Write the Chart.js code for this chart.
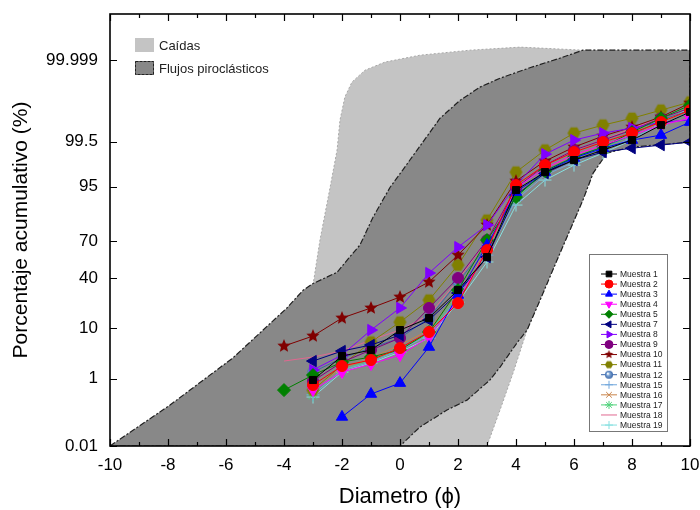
<!DOCTYPE html>
<html>
<head>
<meta charset="utf-8">
<script src="https://cdn.jsdelivr.net/npm/chart.js@4.4.1/dist/chart.umd.min.js"></script>
<style>
  html, body { margin: 0; padding: 0; background: #fff; }
</style>
</head>
<body>
<canvas id="probChart" width="700" height="510"></canvas>
<script>
// grain size (phi) of each sieve
const phi = [-4, -3, -2, -1, 0, 1, 2, 3, 4, 5, 6, 7, 8, 9, 10];

// cumulative percent per sample
const m1  = [null, 0.93, 3.16, 4.15, 9.34, 14.2, 31.1, 57.5, 94.25, 97.43, 98.60, 99.19, 99.547, 99.825, 99.929];
const m2  = [null, 0.70, 1.95, 2.62, 4.53, 8.68, 22.3, 63.1, 95.34, 98.18, 99.09, 99.49, 99.706, 99.857, 99.938];
const m3  = [null, null, 0.091, 0.41, 0.78, 4.73, 27.6, 66.9, 93.75, 97.43, 98.74, 99.27, 99.547, 99.667, 99.857];
const m4  = [null, 0.52, 1.43, 2.15, 3.31, 7.15, 24.2, 63.1, 94.71, 97.89, 98.93, 99.39, 99.667, 99.825, 99.89];
const m5  = [0.52, 1.22, 2.37, 3.02, 4.15, 8.68, 31.1, 70.6, 92.38, 97.55, 98.80, 99.315, 99.724, 99.89, 99.957];
const m7  = [null, 2.49, 3.97, 5.16, 7.73, 13.3, 29.0, 57.5, 92.95, 97.30, 98.60, 99.09, 99.27, 99.39, 99.49];
const m8  = [null, 1.59, 3.31, 9.34, 19.4, 44.4, 65.4, 80.3, 95.34, 98.98, 99.547, 99.706, 99.787, 99.857, 99.875];
const m9  = [null, 0.88, 2.37, 4.15, 6.88, 19.4, 40.4, 70.6, 94.71, 98.18, 99.19, 99.547, 99.758, 99.89, 99.947];
const m10 = [4.94, 7.44, 14.2, 19.4, 26.2, 37.2, 59.1, 80.3, 96.10, 98.52, 99.315, 99.646, 99.80, 99.90, 99.963];
const m11 = [null, 0.52, 2.05, 5.84, 12.4, 24.2, 51.0, 83.0, 97.43, 99.19, 99.706, 99.825, 99.89, 99.938, 99.966];
const m12 = [null, 1.43, 2.88, 4.53, 6.88, 14.2, 37.2, 66.2, 92.67, 97.67, 98.80, 99.315, 99.667, 99.875, 99.938];
const m15 = [null, 0.39, 1.59, 2.37, 4.15, 7.73, 25.5, 59.1, 91.45, 97.03, 98.44, 99.19, 99.60, 99.825, 99.929];
const m16 = [null, 0.59, 1.76, 2.88, 5.16, 9.34, 29.7, 63.1, 92.95, 97.67, 98.93, 99.39, 99.667, 99.857, 99.938];
const m17 = [null, 0.39, 1.59, 2.62, 4.15, 8.35, 27.6, 63.1, 92.07, 97.43, 98.74, 99.27, 99.667, 99.89, 99.950];
const m18 = [2.49, 3.02, 3.97, 6.34, 9.34, 15.6, 38.7, 70.6, 94.71, 98.18, 99.19, 99.547, 99.787, 99.89, 99.947];
const m19 = [null, 0.34, 1.43, 2.26, 3.80, 6.88, 22.9, 53.5, 89.72, 96.27, 98.18, 99.04, 99.547, 99.847, 99.947];

// envelope outlines (phi, cumulative %)
const caidasX = [-3.0, -2.76, -2.41, -2.17, -2.07, -1.90, -1.66, -1.21, -0.52, 0.69, 2.41, 4.14, 6.31, 10, 10, 7.93, 7.14, 6.66, 6.31, 5.52, 4.83, 4.38, 3.90, 3.45, 3.0, 0, -3.0];
const caidasY = [34.9, 70.6, 94.9, 99.19, 99.875, 99.977, 99.993, 99.9975, 99.9988, 99.99937, 99.99961, 99.99971, 99.99961, 99.99961, 99.49, 99.31, 99.04, 97.3, 91.5, 60.8, 24.2, 9.3, 1.36, 0.147, 0.01, 0.01, 34.9];
const flujosX = [-10, -7.93, -5.76, -3.90, -3.34, -3.0, -2.17, -1.72, -1.38, -0.93, -0.34, 0.10, 0.59, 1.38, 2.07, 2.76, 3.45, 4.48, 5.52, 6.31, 10, 10, 7.93, 7.14, 6.66, 6.31, 5.52, 4.83, 4.38, 4.03, 3.45, 3.10, 2.31, 1.62, 0.69, 0, -10];
const flujosY = [0.01, 0.205, 2.9, 19.4, 31, 36, 45, 58, 67, 84.5, 94.9, 97.7, 99.19, 99.89, 99.97, 99.9895, 99.995, 99.998, 99.99917, 99.99961, 99.99961, 99.49, 99.31, 99.04, 97.3, 91.5, 60.8, 24.2, 9.3, 5.6, 1.85, 0.93, 0.28, 0.147, 0.044, 0.01, 0.01];

// probability axis ticks
const yTicks = [0.01, 1, 10, 40, 70, 95, 99.5, 99.999];
const yLabels = ['0.01', '1', '10', '40', '70', '95', '99.5', '99.999'];

const FONT = '"Liberation Sans", Arial, Helvetica, sans-serif';

// inverse normal CDF (Acklam)
function probit(p) {
  const a = [-3.969683028665376e+01, 2.209460984245205e+02, -2.759285104469687e+02, 1.383577518672690e+02, -3.066479806614716e+01, 2.506628277459239e+00];
  const b = [-5.447609879822406e+01, 1.615858368580409e+02, -1.556989798598866e+02, 6.680131188771972e+01, -1.328068155288572e+01];
  const c = [-7.784894002430293e-03, -3.223964580411365e-01, -2.400758277161838e+00, -2.549732539343734e+00, 4.374664141464968e+00, 2.938163982698783e+00];
  const d = [7.784695709041462e-03, 3.224671290700398e-01, 2.445134137142996e+00, 3.754408661907416e+00];
  const pl = 0.02425;
  let q, r;
  if (p < pl) {
    q = Math.sqrt(-2 * Math.log(p));
    return (((((c[0]*q+c[1])*q+c[2])*q+c[3])*q+c[4])*q+c[5]) / ((((d[0]*q+d[1])*q+d[2])*q+d[3])*q+1);
  }
  if (p <= 1 - pl) {
    q = p - 0.5; r = q * q;
    return (((((a[0]*r+a[1])*r+a[2])*r+a[3])*r+a[4])*r+a[5])*q / (((((b[0]*r+b[1])*r+b[2])*r+b[3])*r+b[4])*r+1);
  }
  q = Math.sqrt(-2 * Math.log(1 - p));
  return -(((((c[0]*q+c[1])*q+c[2])*q+c[3])*q+c[4])*q+c[5]) / ((((d[0]*q+d[1])*q+d[2])*q+d[3])*q+1);
}

function normCdf(z) {
  // Abramowitz-Stegun erf approximation
  const t = 1 / (1 + 0.3275911 * Math.abs(z) / Math.SQRT2);
  const y = 1 - (((((1.061405429*t - 1.453152027)*t) + 1.421413741)*t - 0.284496736)*t + 0.254829592)*t * Math.exp(-z*z/2);
  return z >= 0 ? (1 + y) / 2 : (1 - y) / 2;
}

// probability (probit) scale for Chart.js
class ProbitScale extends Chart.Scale {
  determineDataLimits() {
    this.min = this.options.min;
    this.max = this.options.max;
  }
  buildTicks() {
    return yTicks.map(v => ({ value: v }));
  }
  getLabelForValue(v) { return String(v); }
  configure() {
    super.configure();
    this._zMin = probit(this.min / 100);
    this._zMax = probit(this.max / 100);
  }
  getPixelForValue(v) {
    if (v === null || v === undefined || isNaN(v)) return NaN;
    const z = probit(v / 100);
    return this.getPixelForDecimal((z - this._zMin) / (this._zMax - this._zMin));
  }
  getValueForPixel(px) {
    const z = this._zMin + this.getDecimalForPixel(px) * (this._zMax - this._zMin);
    return 100 * normCdf(z);
  }
  getPixelForTick(i) {
    return this.getPixelForValue(this.ticks[i].value);
  }
}
ProbitScale.id = 'probit';
ProbitScale.defaults = {};
Chart.register(ProbitScale);

// filled marker images
function makeMarker(kind, color, r) {
  const s = Math.ceil(r * 2 + 2);
  const cv = document.createElement('canvas');
  cv.width = cv.height = s;
  const g = cv.getContext('2d');
  const cx = s / 2, cy = s / 2;
  g.beginPath();
  if (kind === 'star') {
    for (let i = 0; i < 10; i++) {
      const ang = -Math.PI / 2 + i * Math.PI / 5;
      const rr = i % 2 ? r * 0.45 : r;
      g.lineTo(cx + rr * Math.cos(ang), cy + rr * Math.sin(ang));
    }
    g.fillStyle = color;
  } else if (kind === 'hex') {
    for (let i = 0; i < 6; i++) {
      const ang = i * Math.PI / 3;
      g.lineTo(cx + r * Math.cos(ang), cy + r * Math.sin(ang));
    }
    g.fillStyle = color;
  } else {
    g.arc(cx, cy, r, 0, Math.PI * 2);
    const grad = g.createRadialGradient(cx - r * 0.3, cy - r * 0.3, 0.5, cx, cy, r);
    grad.addColorStop(0, '#ffffff');
    grad.addColorStop(0.35, '#7fa6d6');
    grad.addColorStop(1, color);
    g.fillStyle = grad;
  }
  g.closePath();
  g.fill();
  return cv;
}

const samples = [
  { label: 'Muestra 1',  data: m1,  color: '#000000', style: 'rect',     rot: 0,   r: 5 },
  { label: 'Muestra 2',  data: m2,  color: '#ff0000', style: 'circle',   rot: 0,   r: 5.5 },
  { label: 'Muestra 3',  data: m3,  color: '#0000ff', style: 'triangle', rot: 0,   r: 6.5 },
  { label: 'Muestra 4',  data: m4,  color: '#ff00ff', style: 'triangle', rot: 180, r: 6.5 },
  { label: 'Muestra 5',  data: m5,  color: '#008000', style: 'rectRot',  rot: 0,   r: 6.5 },
  { label: 'Muestra 7',  data: m7,  color: '#000080', style: 'triangle', rot: 270, r: 6.5 },
  { label: 'Muestra 8',  data: m8,  color: '#8000ff', style: 'triangle', rot: 90,  r: 6.5 },
  { label: 'Muestra 9',  data: m9,  color: '#800080', style: 'circle',   rot: 0,   r: 5.5 },
  { label: 'Muestra 10', data: m10, color: '#800000', style: 'star5',    rot: 0,   r: 6.5 },
  { label: 'Muestra 11', data: m11, color: '#808000', style: 'hex',      rot: 0,   r: 6.5 },
  { label: 'Muestra 12', data: m12, color: '#3a66a8', style: 'sphere',   rot: 0,   r: 5.5 },
  { label: 'Muestra 15', data: m15, color: '#72a7dc', style: 'cross',    rot: 0,   r: 6.5 },
  { label: 'Muestra 16', data: m16, color: '#c8844a', style: 'crossRot', rot: 0,   r: 6.5 },
  { label: 'Muestra 17', data: m17, color: '#4fd27a', style: 'star',     rot: 0,   r: 6.5 },
  { label: 'Muestra 18', data: m18, color: '#e06890', style: false,      rot: 0,   r: 0 },
  { label: 'Muestra 19', data: m19, color: '#86e0e0', style: 'cross',    rot: 0,   r: 6.5 }
];

function resolveStyle(s, small) {
  const r = small ? 4 : s.r;
  if (s.style === 'star5') return makeMarker('star', s.color, r + 0.5);
  if (s.style === 'hex') return makeMarker('hex', s.color, r);
  if (s.style === 'sphere') return makeMarker('sphere', s.color, r);
  return s.style;
}

const sampleSets = samples.map(s => ({
  label: s.label,
  data: phi.map((x, i) => ({ x: x, y: s.data[i] })),
  borderColor: s.color,
  backgroundColor: s.color,
  pointBorderColor: s.color,
  pointBackgroundColor: s.color,
  borderWidth: 1,
  pointBorderWidth: 1,
  pointStyle: resolveStyle(s, false),
  pointRotation: s.rot,
  pointRadius: s.r,
  fill: false,
  tension: 0,
  order: 0
}));

const envelopeSets = [
  {
    label: 'Caídas',
    data: caidasX.map((x, i) => ({ x: x, y: caidasY[i] })),
    backgroundColor: '#c4c4c4',
    borderColor: '#a8a8a8',
    borderWidth: 1,
    borderDash: [2, 2],
    pointRadius: 0,
    fill: 'shape',
    tension: 0,
    order: 2
  },
  {
    label: 'Flujos piroclásticos',
    data: flujosX.map((x, i) => ({ x: x, y: flujosY[i] })),
    backgroundColor: '#888888',
    borderColor: '#202020',
    borderWidth: 1.2,
    borderDash: [6, 2, 2, 2],
    pointRadius: 0,
    fill: 'shape',
    tension: 0,
    order: 1
  }
];

// frame with inward ticks on all four sides
const framePlugin = {
  id: 'frame',
  afterDatasetsDraw(chart) {
    const { ctx, chartArea: a, scales } = chart;
    const xs = scales.x, ys = scales.y;
    ctx.save();
    ctx.strokeStyle = '#000';
    ctx.lineWidth = 1.2;
    ctx.beginPath();
    for (let v = -10; v <= 10; v++) {
      const px = Math.round(xs.getPixelForValue(v)) + 0.5;
      const len = v % 2 === 0 ? 7 : 4;
      ctx.moveTo(px, a.bottom); ctx.lineTo(px, a.bottom - len);
      ctx.moveTo(px, a.top); ctx.lineTo(px, a.top + len);
    }
    yTicks.forEach(v => {
      const py = Math.round(ys.getPixelForValue(v)) + 0.5;
      ctx.moveTo(a.left, py); ctx.lineTo(a.left + 7, py);
      ctx.moveTo(a.right, py); ctx.lineTo(a.right - 7, py);
    });
    ctx.stroke();
    ctx.lineWidth = 1.6;
    ctx.strokeRect(a.left, a.top, a.right - a.left, a.bottom - a.top);
    ctx.restore();
  }
};

// the two legends drawn inside the plot
const legendPlugin = {
  id: 'insideLegends',
  afterDraw(chart) {
    const ctx = chart.ctx;
    ctx.save();
    // envelopes, top-left
    ctx.font = '13px ' + FONT;
    ctx.textBaseline = 'middle';
    envelopeSets.forEach((ds, i) => {
      const y = 38 + i * 23;
      ctx.fillStyle = ds.backgroundColor;
      ctx.fillRect(135, y, 19, 14);
      if (i === 1) {
        ctx.strokeStyle = ds.borderColor;
        ctx.lineWidth = 1;
        ctx.setLineDash([3, 1]);
        ctx.strokeRect(135.5, y + 0.5, 18, 13);
        ctx.setLineDash([]);
      }
      ctx.fillStyle = '#222';
      ctx.fillText(ds.label, 159, y + 8);
    });

    // samples, bottom-right box
    const bx = 589, by = 254, bw = 78, bh = 177;
    ctx.fillStyle = '#fff';
    ctx.fillRect(bx, by, bw, bh);
    ctx.strokeStyle = '#777';
    ctx.lineWidth = 1;
    ctx.strokeRect(bx + 0.5, by + 0.5, bw, bh);
    ctx.font = '8.5px ' + FONT;
    samples.forEach((s, i) => {
      const y = 274 + i * 10.07;
      ctx.strokeStyle = s.color;
      ctx.lineWidth = 1;
      ctx.beginPath();
      ctx.moveTo(601, y); ctx.lineTo(617, y);
      ctx.stroke();
      if (s.style) {
        ctx.fillStyle = s.color;
        Chart.helpers.drawPoint(ctx, {
          pointStyle: resolveStyle(s, true),
          rotation: s.rot,
          radius: 4,
          borderWidth: 1
        }, 609, y);
      }
      ctx.fillStyle = '#222';
      ctx.fillText(s.label, 620, y + 0.5);
    });
    ctx.restore();
  }
};

// drop the label overhang padding so the plot frame sits where the layout puts it
function noOverhang(s) {
  s.paddingTop = 0;
  s.paddingBottom = 0;
  s.paddingLeft = 0;
  s.paddingRight = 0;
}

new Chart(document.getElementById('probChart').getContext('2d'), {
  type: 'line',
  data: { datasets: sampleSets.concat(envelopeSets) },
  options: {
    responsive: false,
    animation: false,
    events: [],
    layout: { padding: { top: 14, right: 10, left: 0, bottom: 0 } },
    plugins: {
      legend: { display: false },
      tooltip: { enabled: false }
    },
    scales: {
      x: {
        type: 'linear',
        min: -10,
        max: 10,
        ticks: { stepSize: 2, color: '#000', padding: 9, font: { family: FONT, size: 17 } },
        grid: { display: false, drawTicks: false },
        border: { display: false },
        title: {
          display: true,
          text: 'Diametro (ϕ)',
          color: '#000',
          font: { family: FONT, size: 22 },
          padding: { top: 4, bottom: 0 }
        },
        afterFit: s => { s.height = 64; noOverhang(s); }
      },
      y: {
        type: 'probit',
        position: 'left',
        min: 0.01,
        max: 99.999991,
        ticks: {
          color: '#000',
          padding: 12,
          font: { family: FONT, size: 17 },
          callback: (v, i) => yLabels[i]
        },
        grid: { display: false, drawTicks: false },
        border: { display: false },
        title: {
          display: true,
          text: 'Porcentaje acumulativo (%)',
          color: '#000',
          font: { family: FONT, size: 21 },
          padding: { top: 9, bottom: 0 }
        },
        afterFit: s => { s.width = 110; noOverhang(s); }
      }
    }
  },
  plugins: [framePlugin, legendPlugin]
});
</script>
</body>
</html>
